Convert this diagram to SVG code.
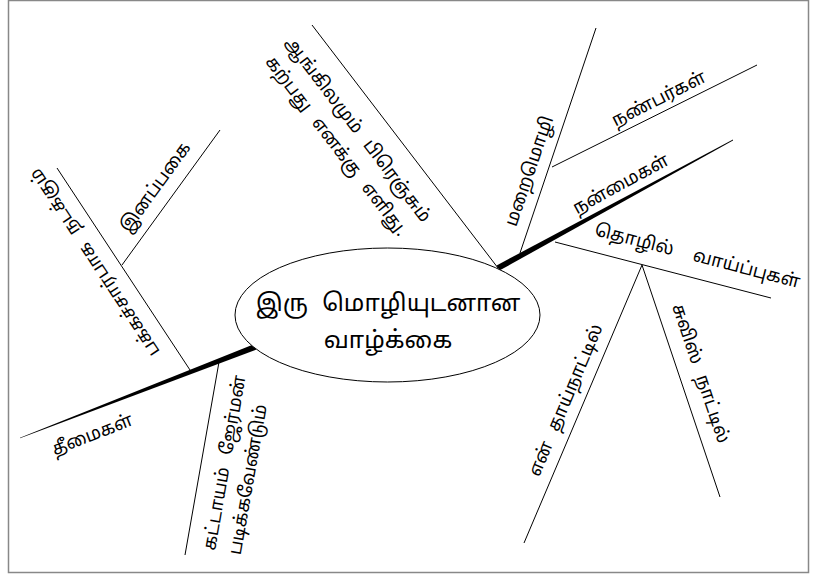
<svg xmlns="http://www.w3.org/2000/svg" width="817" height="576" viewBox="0 0 817 576">
<style>
.t{font-family:'Noto Sans Tamil','Noto Serif Tamil',Latha,'Lohit Tamil','Noto Sans',sans-serif;font-size:18px;fill:#000}
.c{font-size:24px}
.ln{stroke:#000;stroke-width:1;fill:none}
.br{fill:#000;stroke:none}
</style>
<rect x="8.5" y="0.5" width="800" height="572" fill="#fff" stroke="#888" stroke-width="1.5"/>
<g id="connectors">
<polygon class="br" points="496.6,265.4 733,139.6 733,140.4 499.4,270.6"/>
<polygon class="br" points="253.9,344.2 20,437.7 20,438.3 256.1,349.8"/>
<line class="ln" x1="520" y1="253" x2="596" y2="28"/>
<line class="ln" x1="552" y1="167" x2="757" y2="65"/>
<line class="ln" x1="555" y1="242" x2="771" y2="298"/>
<line class="ln" x1="642" y1="265" x2="524" y2="543"/>
<line class="ln" x1="642" y1="265" x2="720" y2="497"/>
<line class="ln" x1="312" y1="25" x2="498" y2="268"/>
<line class="ln" x1="219" y1="362" x2="185" y2="555"/>
<line class="ln" x1="190" y1="370" x2="57" y2="168"/>
<line class="ln" x1="122" y1="265" x2="220" y2="130"/>
</g>
<g id="center">
<ellipse cx="387.5" cy="315" rx="152.5" ry="67" fill="#fff" stroke="#000" stroke-width="1"/>
<text class="t c" x="388" y="311" text-anchor="middle" word-spacing="8">இரு மொழியுடனான</text>
<text class="t c" x="388" y="348" text-anchor="middle">வாழ்க்கை</text>
</g>
<g id="nanmaigal"><text class="t" transform="translate(628,197) rotate(-28.6)" y="-9" text-anchor="middle">நன்மைகள்</text></g>
<g id="nanbargal"><text class="t" transform="translate(665,111) rotate(-26.5)" y="-8" text-anchor="middle">நண்பர்கள்</text></g>
<g id="maraimozhi"><text class="t" transform="translate(546,177) rotate(-71)" y="-12" text-anchor="middle">மறைமொழி</text></g>
<g id="thozhil"><text class="t" transform="translate(692,277) rotate(14.5)" y="-16" text-anchor="middle" word-spacing="16">தொழில் வாய்ப்புகள்</text></g>
<g id="thaainaadu"><text class="t" transform="translate(582,407) rotate(-67)" y="-12" text-anchor="middle" word-spacing="8">என் தாய்நாட்டில்</text></g>
<g id="swiss"><text class="t" transform="translate(681,380) rotate(71.4)" y="-15" text-anchor="middle" word-spacing="8">சுவிஸ் நாட்டில்</text></g>
<g id="english"><g transform="translate(379.5,113) rotate(52.6)">
<text class="t" y="33" text-anchor="middle" word-spacing="8">ஆங்கிலமும் பிரெஞ்சும்</text>
<text class="t" y="60" text-anchor="middle" word-spacing="8">கற்பது எனக்கு எளிது.</text>
</g></g>
<g id="theemaigal"><text class="t" transform="translate(84,413) rotate(-21.2)" y="29" text-anchor="middle">தீமைகள்</text></g>
<g id="german"><g transform="translate(186,548) rotate(-80)">
<text class="t" x="2" y="29" word-spacing="8">கட்டாயம் ஜேர்மன்</text>
<text class="t" x="2" y="55">படிக்கவேண்டும்</text>
</g></g>
<g id="pakka"><text class="t" transform="translate(112,251) rotate(-123.4)" y="-15" text-anchor="middle" word-spacing="8">பக்கச்சார்பாக நடக்கும்</text></g>
<g id="inappagai"><text class="t" transform="translate(170.6,198) rotate(-54)" y="-13" text-anchor="middle">இனப்பகை</text></g>
</svg>
